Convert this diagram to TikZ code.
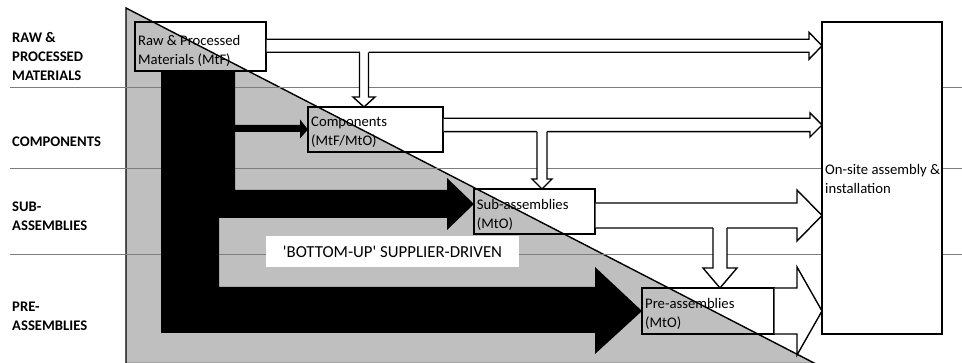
\documentclass[tikz,border=0pt]{standalone}
\usepackage{fontspec}
\setmainfont{Carlito}
\usetikzlibrary{calc}

\definecolor{wedge}{RGB}{191,191,191}
\definecolor{rulegray}{RGB}{125,125,125}

% outlined arrow pointing right: start, tip, shaft half-width, head half-width, head length
\newcommand\hollowright[5]{%
  \draw[hollow] ($(#1)+(0,-#3)$) -- ($(#2)+(-#5,-#3)$) -- ($(#2)+(-#5,-#4)$) -- (#2)
    -- ($(#2)+(-#5,#4)$) -- ($(#2)+(-#5,#3)$) -- ($(#1)+(0,#3)$);}
% outlined arrow pointing down, opening into the arrow it leaves from
\newcommand\hollowdown[5]{%
  \fill[white] ($(#1)+(-#3,-1.3)$) rectangle ($(#2)+(#3,-#5)$);
  \draw[hollow] ($(#1)+(-#3,0)$) -- ($(#2)+(-#3,-#5)$) -- ($(#2)+(-#4,-#5)$) -- (#2)
    -- ($(#2)+(#4,-#5)$) -- ($(#2)+(#3,-#5)$) -- ($(#1)+(#3,0)$);}

\tikzset{
  hollow/.style={draw=black, fill=white, line width=1.4pt, line join=miter},
  flow/.style={fill=black},
  rowline/.style={draw=rulegray, line width=0.8pt},
  procbox/.style={draw=black, line width=1.4pt, rectangle, inner sep=0pt, outer sep=0pt},
  boxtxt/.style={anchor=north west, inner sep=0pt, align=left,
    font=\fontsize{14.67pt}{19pt}\selectfont},
  rowtxt/.style={anchor=north west, inner sep=0pt, align=left,
    font=\bfseries\fontsize{14.67pt}{19.4pt}\selectfont},
}

\begin{document}
\begin{tikzpicture}[x=1pt, y=-1pt]
  \useasboundingbox (0,0) rectangle (962,363);

  % supplier-driven wedge
  \filldraw[fill=wedge, draw=black, line width=1.4pt] (126,8) -- (126,363.5) -- (815,363.5) -- cycle;

  % rows
  \draw[rowline] (10,87) -- (962,87);
  \draw[rowline] (10,168) -- (962,168);
  \draw[rowline] (10,254) -- (962,254);

  % process boxes
  \node[procbox, minimum width=131pt, minimum height=49pt] (raw)  at (200.5,46.5) {};
  \node[procbox, minimum width=135pt, minimum height=45pt] (comp) at (375.5,129.5) {};
  \node[procbox, minimum width=121pt, minimum height=45pt] (sub)  at (534.5,211.5) {};
  \node[procbox, minimum width=132pt, minimum height=46pt] (pre)  at (708,311) {};

  % bottom-up flows
  \coordinate (tipsub) at ($(sub.west)+(0,-7.5)$);
  \fill[flow] (161,71) -- (235,71) -- (235,190) -- (447,190) -- (447,178) -- (tipsub)
    -- (447,230) -- (447,218) -- (219,218) -- (219,287) -- (595,287) -- (595,267)
    -- (pre.west) -- (595,354) -- (595,333) -- (161,333) -- cycle;
  \fill[flow] (234,125) -- (300,125) -- (300,119.5) -- (comp.west) -- (300,138.5)
    -- (300,132) -- (234,132) -- cycle;

  \node[fill=white, inner sep=0pt, minimum width=253pt, minimum height=31pt,
    font=\fontsize{16.8pt}{20pt}\selectfont] (bottomup) at (392.5,251.5)
    {\textquotesingle BOTTOM-UP\textquotesingle{} SUPPLIER-DRIVEN};

  % on-site assembly
  \node[procbox, fill=white, minimum width=120pt, minimum height=312pt] (onsite) at (882,178) {};

  % deliveries to site (shafts start on the outside of each box border)
  \coordinate (a1s) at ($(raw.east)+(0.7,-0.7)$); \coordinate (a1e) at (onsite.west |- a1s);
  \coordinate (a2s) at ($(comp.east)+(0.7,-4.5)$); \coordinate (a2e) at (onsite.west |- a2s);
  \coordinate (a3s) at ($(sub.east)+(0.7,4)$);     \coordinate (a3e) at (onsite.west |- a3s);
  \coordinate (a4s) at ($(pre.east)+(0.7,0)$);     \coordinate (a4e) at (onsite.west |- a4s);
  \hollowright{a1s}{a1e}{6.5}{13.5}{13}
  \hollowright{a2s}{a2e}{6.7}{12}{12}
  \hollowright{a3s}{a3e}{12.5}{25.5}{25}
  \hollowright{a4s}{a4e}{23}{44}{25}

  % supply down to the next tier
  \coordinate (v1e) at ($(comp.north)+(-11.5,0)$); \coordinate (v1s) at ($(v1e |- a1s)+(0,6.5)$);
  \coordinate (v2e) at ($(sub.north)+(7.5,0)$);    \coordinate (v2s) at ($(v2e |- a2s)+(0,6.7)$);
  \coordinate (v3e) at ($(pre.north)+(12,0)$);     \coordinate (v3s) at ($(v3e |- a3s)+(0,12.5)$);
  \hollowdown{v1s}{v1e}{4.5}{11}{10}
  \hollowdown{v2s}{v2e}{5}{10}{10}
  \hollowdown{v3s}{v3e}{7}{17}{20}

  % box texts
  \node[boxtxt] (rawtxt)  at ($(raw.north west)+(3,10.2)$)  {\strut Raw \& Processed\\Materials (MtF)};
  \node[boxtxt] (comptxt) at ($(comp.north west)+(3,6.4)$)  {\strut Components\\(MtF/MtO)};
  \node[boxtxt] (subtxt)  at ($(sub.north west)+(2.7,7.2)$) {\strut Sub-assemblies\\(MtO)};
  \node[boxtxt] (pretxt)  at ($(pre.north west)+(3,6.7)$)   {\strut Pre-assemblies\\(MtO)};
  \node[boxtxt] (sitetxt) at ($(onsite.west)+(3,-17.3)$)    {\strut On-site assembly \&\\installation};

  % row labels
  \node[rowtxt] (rowraw)  at (12,28.4)  {\strut RAW \&\\PROCESSED\\MATERIALS};
  \node[rowtxt] (rowcomp) at (12,132.4) {\strut COMPONENTS};
  \node[rowtxt] (rowsub)  at (12,197.4) {\strut SUB-\\ASSEMBLIES};
  \node[rowtxt] (rowpre)  at (12,297.4) {\strut PRE-\\ASSEMBLIES};
\end{tikzpicture}
\end{document}
